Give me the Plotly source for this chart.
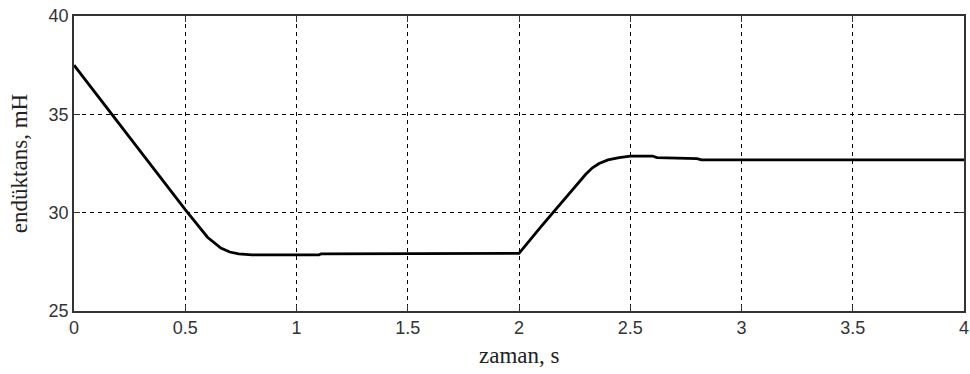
import plotly.graph_objects as go

time_s = [0.0, 0.1, 0.2, 0.3, 0.4, 0.5, 0.6, 0.63, 0.66, 0.7, 0.74, 0.8, 1.1, 1.11, 2.0,
          2.1, 2.2, 2.3, 2.33, 2.36, 2.4, 2.45, 2.5, 2.6, 2.62, 2.8, 2.82, 4.0]
inductance_mH = [37.5, 36.03, 34.56, 33.09, 31.62, 30.15, 28.75, 28.45, 28.2, 28.0, 27.9, 27.85,
                 27.85, 27.9, 27.93,
                 29.3, 30.65, 31.95, 32.28, 32.5, 32.68, 32.8, 32.88, 32.88, 32.8, 32.75, 32.68, 32.68]

x_ticks = [0, 0.5, 1, 1.5, 2, 2.5, 3, 3.5, 4]
x_tick_labels = ["0", "0.5", "1", "1.5", "2", "2.5", "3", "3.5", "4"]
y_ticks = [25, 30, 35, 40]

fig = go.Figure()
fig.add_trace(go.Scatter(x=time_s, y=inductance_mH, mode="lines",
                         line=dict(color="black", width=2.8), showlegend=False))

axis_common = dict(showline=True, linecolor="#333", linewidth=1.5, mirror="ticks",
                   ticks="inside", ticklen=6, tickcolor="#333",
                   showgrid=True, gridcolor="black", griddash="4px,4px", gridwidth=1,
                   zeroline=False, automargin=False,
                   tickfont=dict(family="Liberation Sans", size=18, color="#333"))

fig.update_xaxes(range=[0, 4], tickvals=x_ticks, ticktext=x_tick_labels, **axis_common)
fig.update_yaxes(range=[25, 40], tickvals=y_ticks,
                 title=dict(text="endüktans, mH", font=dict(family="Liberation Serif", size=23, color="#222")),
                 **axis_common)

fig.add_annotation(text="zaman, s", xref="paper", yref="paper", x=0.5, y=0,
                   yanchor="middle", yshift=-44, showarrow=False,
                   font=dict(family="Liberation Serif", size=23, color="#222"))

fig.update_layout(width=970, height=374, margin=dict(l=74, r=6, t=16, b=63),
                  plot_bgcolor="white", paper_bgcolor="white")

fig.write_html("out.html")
